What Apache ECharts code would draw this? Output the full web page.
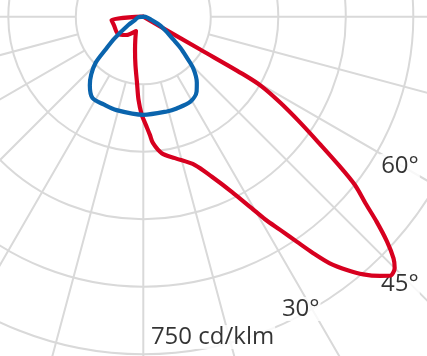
<!DOCTYPE html>
<html><head><meta charset="utf-8">
<script src="https://cdn.jsdelivr.net/npm/echarts@6/dist/echarts.min.js"></script>
<style>html,body{margin:0;padding:0;background:#fff}#c{width:427px;height:356px}</style>
</head><body><div id="c"></div>
<script>
// Luminous intensity distribution, cd/klm; angle 0 = straight down, positive = right side
const redAngles = [-84, -84, -74, -55.6, -43.4, -27, -18.9, -14, -9.2, -5.4, -3.3, -0.9, 1.4, 3.2, 4.4, 7.7, 12.6, 19.2, 23.2, 26.8, 29.5, 31, 32.7, 34.3, 35.7, 37.1, 38.8, 40.5, 42.4, 43.6, 45, 46, 47.3, 48.7, 50, 51.5, 52.7, 54.2, 56, 57.9, 59.5, 60, 60, 60];
const redValues = [0, 71, 68, 68, 56, 36, 55, 76, 109, 148, 185, 218, 241, 263, 282, 306, 322, 349, 387, 436, 489, 525, 563, 605, 647, 687, 722, 753, 780, 795, 790, 773, 737, 690, 644, 601, 549, 484, 420, 359, 306, 261, 146, 0];
const blueAngles = [-90, -85, -68, -61, -53, -49, -46, -42, -38, -32, -24, -16, 0, 14, 20, 29, 35.5, 39, 44, 47, 50, 53, 57, 63, 68, 80, 90];
const blueValues = [0, 11, 20, 38, 80, 111, 147, 173, 193, 213, 214, 216, 218, 217, 217, 216, 204, 189, 160, 131, 108, 82, 62, 41, 20, 8, 0];
const circleStep = 150;          // cd/klm between grid circles
const angleStep = 15;            // degrees between radial lines
const labelTexts = ['60°', '45°', '30°', '750 cd/klm'];
const labelAngles = [59.8, 43.8, 28.3, 12.2];
const labelRadii = [660, 824, 738, 728];

const C = [143.3, 16.7];
const PX = 0.45;      // px per cd/klm
const RMAX = 900;
const GRID = '#d9d9d9';
const T = 'rgba(0,0,0,0)';

const zip = (a, v) => a.map((ang, i) => [v[i], ang]);
const angleBase = {type: 'value', min: -180, max: 180, interval: angleStep, startAngle: 90, clockwise: false,
  axisLine: {show: false}, axisTick: {show: false}, axisLabel: {show: false}};

const chart = echarts.init(document.getElementById('c'), null, {renderer: 'canvas'});
chart.setOption({
  animation: false,
  backgroundColor: '#fff',
  polar: [
    {center: C, radius: [circleStep * PX, 1000 * PX]},
    {center: C, radius: RMAX * PX}
  ],
  angleAxis: [
    Object.assign({polarIndex: 0, splitLine: {show: true, lineStyle: {color: GRID, width: 2}}}, angleBase),
    Object.assign({polarIndex: 1, splitLine: {show: false}}, angleBase)
  ],
  radiusAxis: [
    {polarIndex: 0, type: 'value', min: 0, max: 1000, show: false},
    {polarIndex: 1, type: 'value', min: 0, max: RMAX, interval: circleStep,
     axisLine: {show: false}, axisTick: {show: false}, axisLabel: {show: false},
     splitLine: {show: true, lineStyle: {color: [T, GRID, GRID, GRID, GRID, GRID, T], width: 2}}}
  ],
  series: [
    {type: 'scatter', coordinateSystem: 'polar', polarIndex: 1, z: 1, symbolSize: 1,
     itemStyle: {color: T}, silent: true,
     data: labelTexts.map((t, i) => ({name: t, value: [labelRadii[i], labelAngles[i]]})),
     label: {show: true, position: 'inside', formatter: '{b}', color: '#000', fontSize: 24,
             fontFamily: 'Open Sans', backgroundColor: '#fff', padding: [0, 1]}},
    {type: 'line', coordinateSystem: 'polar', polarIndex: 1, z: 3, showSymbol: false, symbol: 'none',
     smooth: 0.3, clip: false, data: zip(redAngles, redValues),
     lineStyle: {color: '#d7001f', width: 4.2, join: 'round', cap: 'round'}},
    {type: 'line', coordinateSystem: 'polar', polarIndex: 1, z: 4, showSymbol: false, symbol: 'none',
     smooth: 0.3, clip: false, data: zip(blueAngles, blueValues),
     lineStyle: {color: '#0a64ad', width: 4.2, join: 'round', cap: 'round'}}
  ]
});
</script></body></html>
